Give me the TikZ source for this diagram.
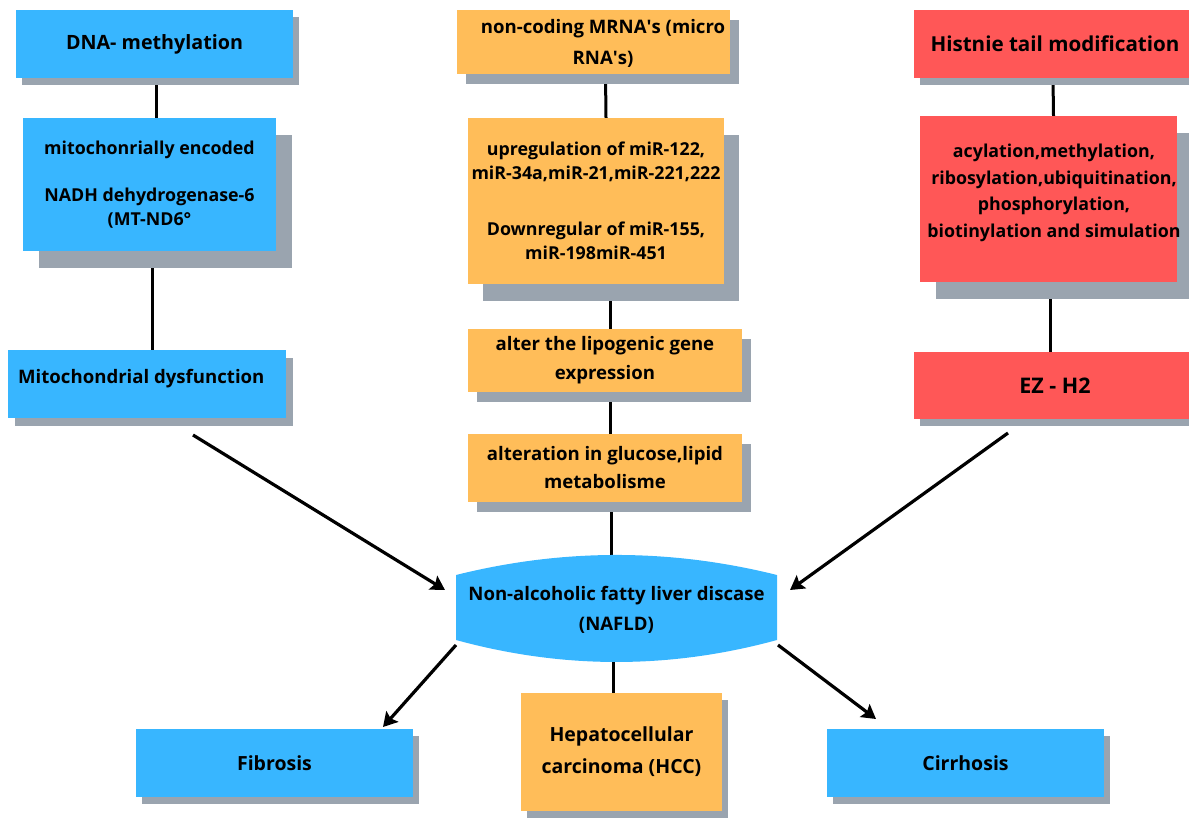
\documentclass[tikz,border=0pt]{standalone}
\usepackage{fontspec}
\setmainfont{Open Sans}
\usetikzlibrary{shadows,arrows.meta,backgrounds}
\definecolor{cblue}{HTML}{38B6FF}
\definecolor{corange}{HTML}{FFBD59}
\definecolor{cred}{HTML}{FF5757}
\definecolor{cshadow}{HTML}{9AA4AF}
\tikzset{
  box/.style={rectangle, inner sep=0pt, align=center},
  sh/.style 2 args={drop shadow={shadow xshift=#1pt, shadow yshift=-#2pt, fill=cshadow, opacity=1}},
  bodyfont/.style={font=\bfseries\fontsize{17.8}{24}\selectfont},
  midfont/.style={font=\bfseries\fontsize{18.6}{#1}\selectfont},
  bigfont/.style={font=\bfseries\fontsize{19.5}{32}\selectfont},
  link/.style={line width=3pt, black},
  arr/.style={line width=3.2pt, black, -{Stealth[length=14pt,width=16pt,inset=2.5pt]}},
}
\begin{document}
\begin{tikzpicture}[x=1pt,y=-1pt]
\useasboundingbox (0,0) rectangle (1189,818);
% left column
\node[box, fill=cblue, minimum width=277pt, minimum height=68pt, sh={6}{7}, font=\bfseries\fontsize{19.7}{26}\selectfont] (dna) at (154.5,44) {DNA- methylation};
\node[box, fill=cblue, minimum width=253pt, minimum height=133pt, sh={16}{17}, bodyfont] (mtnd) at (149.5,184.5) {mitochonrially encoded\\[23pt]NADH dehydrogenase-6\\(MT-ND6°};
\node[box, fill=cblue, minimum width=278pt, minimum height=68pt, sh={7}{8}] (mito) at (147,384) {};
\node[box, font=\bfseries\fontsize{18.6}{26}\selectfont, anchor=west] (mitot) at (18,379) {Mitochondrial dysfunction};
% middle column
\node[box, fill=corange, minimum width=273pt, minimum height=64pt, sh={9}{10}] (nc) at (593.5,42) {};
\node[box, midfont=31] (nct) at (603,43.5) {non-coding MRNA\textquotesingle s (micro\\RNA\textquotesingle s)};
\node[box, fill=corange, minimum width=256pt, minimum height=166pt, sh={15}{17}, bodyfont] (up) at (596,201) {upregulation of miR-122,\\miR-34a,miR-21,miR-221,222\\[32pt]Downregular of miR-155,\\miR-198miR-451};
\node[box, fill=corange, minimum width=274pt, minimum height=63pt, sh={9}{10}, midfont=29] (lip) at (605,360.5) {alter the lipogenic gene\\expression};
\node[box, fill=corange, minimum width=274pt, minimum height=68pt, sh={9}{10}, midfont=28] (glu) at (605,468) {alteration in glucose,lipid\\metabolisme};
% right column
\node[box, fill=cred, minimum width=282pt, minimum height=68pt, sh={6}{7}, font=\bfseries\fontsize{20.6}{26}\selectfont] (hist) at (1055,44) {Histnie tail modification};
\node[box, fill=cred, minimum width=257pt, minimum height=166pt, sh={16}{17}] (acyl) at (1048.5,199) {};
\node[box, font=\bfseries\fontsize{17.8}{26.7}\selectfont] (acylt) at (1054,193) {acylation,methylation,\\ribosylation,ubiquitination,\\phosphorylation,\\biotinylation and simulation};
\node[box, fill=cred, minimum width=282pt, minimum height=67pt, sh={6}{7}, font=\bfseries\fontsize{21.5}{26}\selectfont] (ez) at (1055,385.5) {EZ - H2};
% NAFLD
\fill[cblue] (456,575) .. controls (563,548.3) and (670,548.3) .. (777,575) -- (777,640) .. controls (670,669.3) and (563,669.3) .. (456,640) -- cycle;
\node[box, midfont=30] (nafld) at (616.5,610) {Non-alcoholic fatty liver discase\\(NAFLD)};
\coordinate (ntop) at (611,555);
\coordinate (nbot) at (613,662);
\coordinate (nl) at (445,590);
\coordinate (nr) at (790,590);
\coordinate (nbl) at (456,645);
\coordinate (nbr) at (778,645);
% bottom
\node[box, fill=corange, minimum width=201pt, minimum height=118pt, sh={6}{7}, bigfont] (hcc) at (621.5,752) {Hepatocellular\\carcinoma (HCC)};
\node[box, fill=cblue, minimum width=277pt, minimum height=68pt, sh={6}{7}, bigfont] (fib) at (274.5,763) {Fibrosis};
\node[box, fill=cblue, minimum width=277pt, minimum height=68pt, sh={6}{7}, bigfont] (cir) at (965.5,763) {Cirrhosis};
\coordinate (la) at (193,435);
\coordinate (ra) at (1008,433);
\coordinate (fa) at (383,727);
\coordinate (ca) at (876,719);
% connectors
\begin{scope}[on background layer]
\draw[link] ([xshift=1.5pt]dna.south) -- ([xshift=6.5pt]mtnd.north);
\draw[link] ([xshift=2.5pt]mtnd.south) -- ([xshift=5pt]mito.north);
\draw[link] ([xshift=12pt]nc.south) -- ([xshift=10pt]up.north);
\draw[link] ([xshift=14pt]up.south) -- ([xshift=5pt]lip.north);
\draw[link] ([xshift=5pt]lip.south) -- ([xshift=5pt]glu.north);
\draw[link] ([xshift=6pt]glu.south) -- (ntop);
\draw[link] (nbot) -- ([xshift=-8.5pt]hcc.north);
\draw[link] ([xshift=-2pt]hist.south) -- ([xshift=5pt]acyl.north);
\draw[link] ([xshift=1.5pt]acyl.south) -- ([xshift=-5pt]ez.north);
\end{scope}
\draw[arr] (la) -- (nl);
\draw[arr] (ra) -- (nr);
\draw[arr] (nbl) -- (fa);
\draw[arr] (nbr) -- (ca);
\end{tikzpicture}
\end{document}
